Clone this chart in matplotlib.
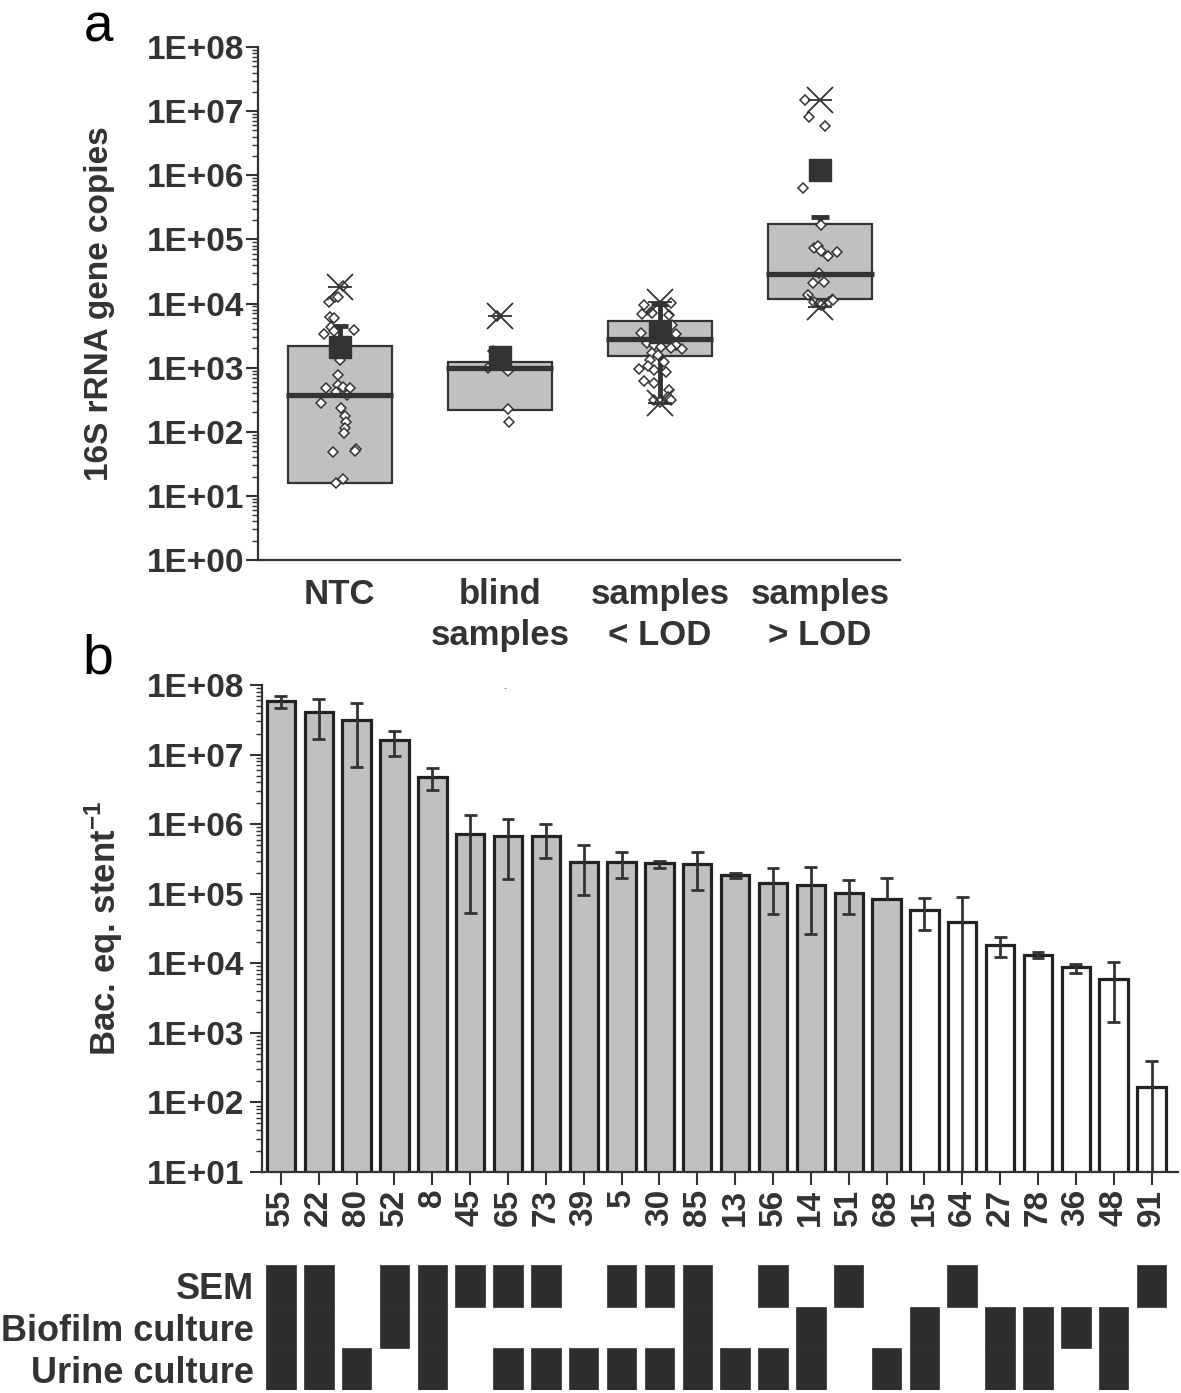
import numpy as np
import matplotlib
matplotlib.use("Agg")
import matplotlib.pyplot as plt
from matplotlib.ticker import LogLocator, NullFormatter, FixedLocator

plt.rcParams['font.family'] = ['Liberation Sans', 'DejaVu Sans']
plt.rcParams['font.weight'] = 'bold'
plt.rcParams['axes.labelweight'] = 'bold'
plt.rcParams['mathtext.fontset'] = 'custom'
plt.rcParams['mathtext.rm'] = 'Liberation Sans:bold'
plt.rcParams['mathtext.bf'] = 'Liberation Sans:bold'

# ---------------- Panel a data ----------------
groups = ["NTC", "blind\nsamples", "samples\n< LOD", "samples\n> LOD"]
box_q1 = [16, 216, 1500, 11800]
box_q3 = [2200, 1230, 5400, 173000]
box_median = [375, 1000, 2800, 29000]
box_mean = [2100, 1440, 3600, 1200000]
whisker_low = [16, 216, 295, 11800]
whisker_high = [4500, 1230, 9800, 220000]
extreme_max = [18000, 6300, 10700, 15000000]
extreme_min = [np.nan, np.nan, 284, 8900]

ntc_points = [1.88e4, 1.28e4, 1.25e4, 1.06e4, 6.25e3, 5.9e3, 4.36e3, 3.78e3, 3.32e3, 3.87e3,
              1.32e3, 769, 482, 537, 505, 477, 423, 375, 279, 233, 178, 144, 116, 94.8,
              47.9, 53.3, 50, 15.7, 18.2]
ntc_jitter = [0.021, -0.031, -0.011, -0.067, -0.058, -0.036, -0.056, -0.036, -0.098, 0.090,
              0.0, -0.011, -0.088, -0.011, 0.021, 0.067, -0.021, 0.046, -0.114, 0.011,
              0.031, 0.042, 0.031, 0.025, -0.042, 0.104, 0.094, -0.025, 0.021]
blind_points = [6.4e3, 1.84e3, 1.24e3, 1.10e3, 977, 888, 224, 144]
blind_jitter = [-0.016, -0.04, -0.016, -0.052, -0.073, 0.052, 0.052, 0.056]
below_points = [9.5e3, 7.5e3, 7.06e3, 6.9e3, 1.01e4, 6.6e3, 4.6e3, 3.5e3, 3.4e3, 2.4e3,
                2.26e3, 2.13e3, 2.26e3, 1.94e3, 2.0e3, 1.68e3, 1.58e3, 1.32e3, 1.24e3, 955,
                921, 866, 1.06e3, 620, 571, 449, 353, 313, 313, 295]
below_jitter = [-0.098, -0.056, -0.046, -0.114, 0.069, 0.058, 0.079, -0.119, 0.1, -0.081,
                -0.036, 0.006, 0.1, 0.136, 0.069, -0.046, -0.014, -0.061, 0.027, -0.129,
                -0.036, 0.0375, -0.073, -0.098, -0.039, 0.058, 0.048, 0.069, -0.036, 0.002]
above_points = [1.5e7, 8.05e6, 5.9e6, 6.3e5, 1.68e5, 7.3e4, 7.9e4, 6.7e4, 5.6e4, 6.3e4,
                2.97e4, 2.07e4, 2.2e4, 1.36e4, 1.07e4, 1.0e4, 1.0e4, 1.07e4, 1.14e4, 9.5e3]
above_jitter = [-0.092, -0.067, 0.031, -0.108, 0.006, -0.036, -0.014, 0.006, 0.052, 0.106,
                -0.004, -0.042, 0.023, -0.073, -0.036, -0.004, 0.027, 0.058, 0.079, 0.006]
a_ticks = ["1E+00", "1E+01", "1E+02", "1E+03", "1E+04", "1E+05", "1E+06", "1E+07", "1E+08"]

# ---------------- Panel b data ----------------
samples = ["55", "22", "80", "52", "8", "45", "65", "73", "39", "5", "30", "85", "13",
           "56", "14", "51", "68", "15", "64", "27", "78", "36", "48", "91"]
bac_eq = [5.95e7, 4.1e7, 3.14e7, 1.6e7, 4.76e6, 7.1e5, 6.8e5, 6.8e5, 2.9e5, 2.83e5, 2.73e5,
          2.64e5, 1.86e5, 1.44e5, 1.32e5, 1.02e5, 8.3e4, 5.8e4, 3.97e4, 1.85e4, 1.33e4,
          8.7e3, 5.9e3, 165]
err_high = [6.95e7, 6.3e7, 5.6e7, 2.16e7, 6.35e6, 1.37e6, 1.19e6, 1.0e6, 4.96e5, 3.94e5,
            2.98e5, 4.0e5, 2.0e5, 2.34e5, 2.42e5, 1.56e5, 1.68e5, 8.7e4, 8.9e4, 2.41e4,
            1.44e4, 9.8e3, 1.03e4, 400]
err_low = [4.67e7, 1.66e7, 6.6e6, 9.6e6, 3.13e6, 5.3e4, 1.63e5, 3.26e5, 9.6e4, 1.68e5,
           2.37e5, 1.14e5, 1.68e5, 5.1e4, 2.64e4, 5.1e4, 8.3e4, 3.04e4, 0, 1.23e4,
           1.2e4, 7.3e3, 1.42e3, 0]
grey_bar = [True, True, True, True, True, True, True, True, True, True, True, True, True,
            True, True, True, True, False, False, False, False, False, False, False]
b_ticks = ["1E+01", "1E+02", "1E+03", "1E+04", "1E+05", "1E+06", "1E+07", "1E+08"]

# ---------------- Matrix data ----------------
matrix_rows = ["SEM", "Biofilm culture", "Urine culture"]
sem = [1, 1, 0, 1, 1, 1, 1, 1, 0, 1, 1, 1, 0, 1, 0, 1, 0, 0, 1, 0, 0, 0, 0, 1]
biofilm = [1, 1, 0, 1, 1, 0, 0, 0, 0, 0, 0, 1, 0, 0, 1, 0, 0, 1, 0, 1, 1, 1, 1, 0]
urine = [1, 1, 1, 0, 1, 0, 1, 1, 1, 1, 1, 1, 1, 1, 1, 0, 1, 1, 0, 1, 1, 0, 1, 0]

DARK = '#333333'
GREY = '#c0c0c0'
W, H = 1181, 1393
fig = plt.figure(figsize=(W / 100, H / 100), dpi=100)

def style_log_y(ax, labels, lo, hi, pad):
    ax.set_yscale('log')
    ax.set_ylim(lo, hi)
    ax.yaxis.set_major_locator(FixedLocator([10.0 ** k for k in range(int(np.log10(lo)), int(np.log10(hi)) + 1)]))
    ax.set_yticklabels(labels)
    ax.yaxis.set_minor_locator(LogLocator(base=10, subs=np.arange(2, 10), numticks=20))
    ax.yaxis.set_minor_formatter(NullFormatter())
    ax.tick_params(axis='y', which='major', direction='out', length=9, width=1.5,
                   color=DARK, labelsize=24, labelcolor=DARK, pad=pad)
    ax.tick_params(axis='y', which='minor', direction='out', length=4.5, width=1.0, color=DARK)
    for s in ['top', 'right']:
        ax.spines[s].set_visible(False)
    for s in ['left', 'bottom']:
        ax.spines[s].set_color(DARK)
        ax.spines[s].set_linewidth(1.6)

# ---------------- Panel a ----------------
axA = fig.add_axes([258 / W, 1 - 560 / H, (900 - 258) / W, (560 - 47) / H])
style_log_y(axA, a_ticks, 1, 1e8, 1)
xa = np.arange(len(groups))
axA.set_xlim(-0.51, 3.5)
bw = 0.65
axA.bar(xa, np.array(box_q3) - np.array(box_q1), bottom=box_q1, width=bw,
        color=GREY, edgecolor=DARK, linewidth=1.6, zorder=2)
capw = 0.11
for i in range(len(groups)):
    if whisker_high[i] > box_q3[i]:
        axA.vlines(xa[i], box_q3[i], whisker_high[i], color=DARK, lw=3.5, zorder=4)
        axA.hlines(whisker_high[i], xa[i] - capw / 2, xa[i] + capw / 2, color=DARK, lw=3.5, zorder=4)
    if whisker_low[i] < box_q1[i]:
        axA.vlines(xa[i], whisker_low[i], box_q1[i], color=DARK, lw=3.5, zorder=4)
        axA.hlines(whisker_low[i], xa[i] - capw / 2, xa[i] + capw / 2, color=DARK, lw=3.5, zorder=4)

point_sets = [(ntc_points, ntc_jitter), (blind_points, blind_jitter),
              (below_points, below_jitter), (above_points, above_jitter)]
for i, (pts, jit) in enumerate(point_sets):
    axA.plot(xa[i] + np.array(jit), pts, ls='none', marker='D', ms=5.2,
             mfc='white', mec=DARK, mew=1.1, zorder=5)

axA.hlines(box_median, xa - bw / 2 - 0.01, xa + bw / 2 + 0.01, color=DARK, lw=3.8, zorder=6)
axA.plot(xa, box_mean, ls='none', marker='s', ms=15.5, color=DARK, zorder=7)
axA.plot(xa, extreme_max, ls='none', marker='x', ms=19, mew=1.3, color=DARK, zorder=8)
axA.plot(xa, extreme_max, ls='none', marker='_', ms=17, mew=1.3, color=DARK, zorder=8)
axA.plot(xa, extreme_min, ls='none', marker='x', ms=19, mew=1.3, color=DARK, zorder=8)
axA.plot(xa, extreme_min, ls='none', marker='_', ms=17, mew=1.3, color=DARK, zorder=8)

axA.set_xticks(xa)
axA.set_xticklabels(groups, fontsize=25, color=DARK, linespacing=1.3)
axA.tick_params(axis='x', length=0, pad=13)
axA.set_ylabel("16S rRNA gene copies", fontsize=24, color=DARK)
axA.yaxis.set_label_coords(-0.222, 0.5)

# ---------------- Panel b ----------------
axB = fig.add_axes([262 / W, 1 - 1172 / H, (1178 - 262) / W, (1172 - 685) / H])
style_log_y(axB, b_ticks, 10, 1e8, 4)
xb = np.arange(len(samples))
axB.set_xlim(-0.5, 23.7)
axB.bar(xb, bac_eq, width=0.75, color=[GREY if g else 'white' for g in grey_bar],
        edgecolor='#222222', linewidth=2.3, zorder=2)
ylo = axB.get_ylim()[0]
for i in range(len(samples)):
    lo = err_low[i] if err_low[i] > 0 else ylo * 0.5
    axB.vlines(xb[i], lo, err_high[i], color=DARK, lw=2.0, zorder=3)
    axB.hlines(err_high[i], xb[i] - 0.17, xb[i] + 0.17, color=DARK, lw=2.0, zorder=3)
    if 0 < err_low[i] < bac_eq[i]:
        axB.hlines(err_low[i], xb[i] - 0.17, xb[i] + 0.17, color=DARK, lw=2.0, zorder=3)
axB.set_xticks(xb)
axB.set_xticklabels(samples, rotation=90, fontsize=24, color=DARK)
axB.tick_params(axis='x', direction='out', length=9, width=1.5, color=DARK, pad=3)
axB.set_ylabel(r"Bac. eq. stent$^{\mathbf{-1}}$", fontsize=25, color=DARK)
axB.yaxis.set_label_coords(-0.150, 0.5)

# ---------------- Matrix ----------------
axM = fig.add_axes([262 / W, 1 - 1390 / H, (1178 - 262) / W, (1390 - 1265) / H])
axM.set_xlim(-0.5, 23.7)
axM.set_ylim(0, 3)
for row_vals, bottom in [(sem, 2), (biofilm, 1), (urine, 0)]:
    xs = [xb[i] for i in range(len(samples)) if row_vals[i]]
    axM.bar(xs, 1, bottom=bottom, width=0.78, color='#2e2e2e', edgecolor='#2e2e2e', linewidth=0.5)
axM.set_yticks([2.5, 1.5, 0.5])
axM.set_yticklabels(matrix_rows, fontsize=26, color=DARK)
axM.tick_params(axis='y', length=0, pad=6)
axM.set_xticks([])
for s in axM.spines.values():
    s.set_visible(False)

# panel letters
fig.text(98 / W, 1 - 28 / H, "a", fontsize=38, fontweight='normal', ha='center', va='center', color='black')
fig.text(98 / W, 1 - 660 / H, "b", fontsize=40, fontweight='normal', ha='center', va='center', color='black')
fig.text(505 / W, 1 - 688 / H, "-", fontsize=7, fontweight='normal', ha='center', va='center', color='#888888')

fig.savefig("out.png", dpi=100, facecolor='white')
